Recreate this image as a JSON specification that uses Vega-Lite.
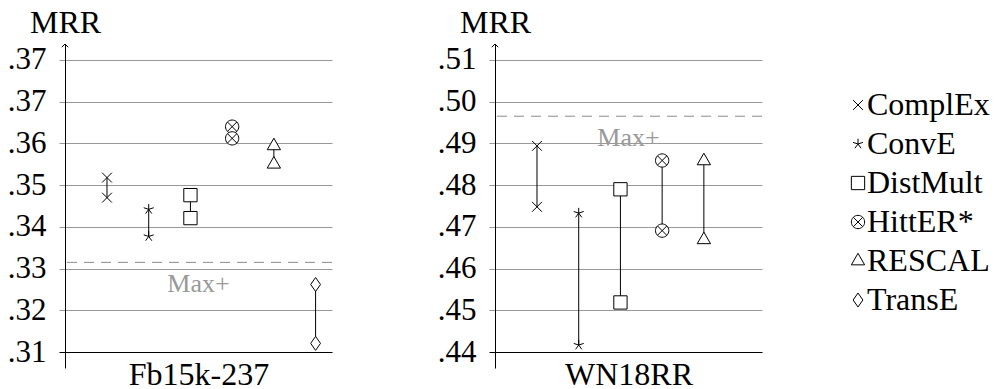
{
  "$schema": "https://vega.github.io/schema/vega-lite/v6.json",
  "background": "white",
  "padding": {"left": 7, "top": 6, "right": 5, "bottom": 0},
  "config": {
    "font": "Liberation Serif",
    "view": {"stroke": null},
    "axis": {
      "labelFont": "Liberation Serif", "labelFontSize": 31, "labelColor": "black",
      "titleFont": "Liberation Serif", "titleFontSize": 32, "titleFontWeight": "normal", "titleColor": "black",
      "domainColor": "black", "domainWidth": 1, "tickSize": 6, "labelPadding": 13, "gridWidth": 1
    }
  },
  "datasets": {
    "fb": [
      {"model": "ComplEx", "mrr": 0.3518}, {"model": "ComplEx", "mrr": 0.3470},
      {"model": "ConvE", "mrr": 0.3442}, {"model": "ConvE", "mrr": 0.3377},
      {"model": "DistMult", "mrr": 0.3476}, {"model": "DistMult", "mrr": 0.3421},
      {"model": "HittER*", "mrr": 0.3640}, {"model": "HittER*", "mrr": 0.3612},
      {"model": "RESCAL", "mrr": 0.3594}, {"model": "RESCAL", "mrr": 0.3550},
      {"model": "TransE", "mrr": 0.3262}, {"model": "TransE", "mrr": 0.3121}
    ],
    "fbmax": [{"label": "Max+", "mrr": 0.3315}],
    "wn": [
      {"model": "ComplEx", "mrr": 0.4894}, {"model": "ComplEx", "mrr": 0.4748},
      {"model": "ConvE", "mrr": 0.4733}, {"model": "ConvE", "mrr": 0.4417},
      {"model": "DistMult", "mrr": 0.4790}, {"model": "DistMult", "mrr": 0.4519},
      {"model": "HittER*", "mrr": 0.4859}, {"model": "HittER*", "mrr": 0.4691},
      {"model": "RESCAL", "mrr": 0.4858}, {"model": "RESCAL", "mrr": 0.4669}
    ],
    "wnmax": [{"label": "Max+", "mrr": 0.4965}],
    "models": [
      {"model": "ComplEx"}, {"model": "ConvE"}, {"model": "DistMult"},
      {"model": "HittER*"}, {"model": "RESCAL"}, {"model": "TransE"}
    ]
  },
  "spacing": 85,
  "hconcat": [
    {
      "spacing": 104,
      "hconcat": [
        {
          "width": 267, "height": 324,
          "layer": [
            {
              "data": {"name": "fb"},
              "mark": {"type": "rule", "color": "black", "strokeWidth": 1},
              "encoding": {
                "x": {"field": "model", "type": "nominal", "scale": {"type": "point", "domain": ["ComplEx", "ConvE", "DistMult", "HittER*", "RESCAL", "TransE"], "padding": 0.7, "align": 0.719}, "axis": null},
                "y": {"aggregate": "min", "field": "mrr", "type": "quantitative", "scale": {"domain": [0.3062, 0.3838], "nice": false, "zero": false}, "title": "MRR"},
                "y2": {"aggregate": "max", "field": "mrr"}
              }
            },
            {
              "data": {"name": "fb"},
              "mark": {"type": "point", "fill": "white", "stroke": "black", "strokeWidth": 1, "opacity": 1, "size": 196},
              "encoding": {
                "x": {"field": "model", "type": "nominal", "scale": {"type": "point", "domain": ["ComplEx", "ConvE", "DistMult", "HittER*", "RESCAL", "TransE"], "padding": 0.7, "align": 0.719},
                  "axis": {"title": "Fb15k-237", "domain": false, "ticks": false, "labels": false, "grid": false, "titleY": 16, "titleBaseline": "alphabetic"}},
                "y": {"field": "mrr", "type": "quantitative", "scale": {"domain": [0.3062, 0.3838], "nice": false, "zero": false}, "title": "MRR",
                  "axis": {"values": [0.31, 0.32, 0.33, 0.34, 0.35, 0.36, 0.37, 0.38], "grid": true,
                    "gridColor": {"condition": {"test": "datum.value < 0.315", "value": "black"}, "value": "#999999"},
                    "tickColor": {"condition": {"test": "datum.value < 0.315", "value": "black"}, "value": "#999999"},
                    "labelExpr": "datum.value > 0.375 ? '.37' : replace(format(datum.value, '.2f'), '0.', '.')",
                    "titleAngle": 0, "titleAlign": "center", "titleBaseline": "alphabetic", "titleX": 0, "titleY": -12}},
                "shape": {"field": "model", "type": "nominal",
                  "scale": {"domain": ["ComplEx", "ConvE", "DistMult", "HittER*", "RESCAL", "TransE"],
                    "range": [
                      "M-0.7,-0.7L0.7,0.7M-0.7,0.7L0.7,-0.7",
                      "M0,0L0,-0.75M0,0L0.713,-0.232M0,0L0.441,0.607M0,0L-0.441,0.607M0,0L-0.713,-0.232",
                      "M-0.95,-0.95L0.95,-0.95L0.95,0.95L-0.95,0.95Z",
                      "M0.95,0A0.95,0.95,0,1,1,-0.95,0A0.95,0.95,0,1,1,0.95,0ZM-0.67,-0.67L0.67,0.67M-0.67,0.67L0.67,-0.67",
                      "M0,-1.1L0.95,0.55L-0.95,0.55Z",
                      "M0,-1L0.7,0L0,1L-0.7,0Z"
                    ]},
                  "legend": null}
              }
            },
            {
              "data": {"name": "fbmax"},
              "mark": {"type": "rule", "color": "#8c8c8c", "strokeDash": [10, 7], "strokeWidth": 1},
              "encoding": {"y": {"field": "mrr", "type": "quantitative", "title": "MRR"}}
            },
            {
              "data": {"name": "fbmax"},
              "mark": {"type": "text", "color": "#999999", "fontSize": 26, "dy": 22, "baseline": "middle", "align": "center", "font": "Liberation Serif"},
              "encoding": {
                "x": {"datum": 0.5, "type": "quantitative", "scale": {"domain": [0, 1]}, "axis": null},
                "y": {"field": "mrr", "type": "quantitative", "title": "MRR"},
                "text": {"field": "label"}
              }
            },
            {
              "data": {"name": "fbmax"},
              "mark": {"type": "point", "shape": "M-0.8,0.8L0,0L0.8,0.8", "size": 64, "stroke": "black", "strokeWidth": 1, "fillOpacity": 0, "opacity": 1},
              "encoding": {
                "x": {"datum": 0, "type": "quantitative", "scale": {"domain": [0, 1]}, "axis": null},
                "y": {"datum": 0.3838, "type": "quantitative"}
              }
            }
          ],
          "resolve": {"scale": {"x": "independent"}}
        },
        {
          "width": 267, "height": 324,
          "layer": [
            {
              "data": {"name": "wn"},
              "mark": {"type": "rule", "color": "black", "strokeWidth": 1},
              "encoding": {
                "x": {"field": "model", "type": "nominal", "scale": {"type": "point", "domain": ["ComplEx", "ConvE", "DistMult", "HittER*", "RESCAL", "TransE"], "padding": 0.7, "align": 0.719}, "axis": null},
                "y": {"aggregate": "min", "field": "mrr", "type": "quantitative", "scale": {"domain": [0.4362, 0.5138], "nice": false, "zero": false}, "title": "MRR"},
                "y2": {"aggregate": "max", "field": "mrr"}
              }
            },
            {
              "data": {"name": "wn"},
              "mark": {"type": "point", "fill": "white", "stroke": "black", "strokeWidth": 1, "opacity": 1, "size": 196},
              "encoding": {
                "x": {"field": "model", "type": "nominal", "scale": {"type": "point", "domain": ["ComplEx", "ConvE", "DistMult", "HittER*", "RESCAL", "TransE"], "padding": 0.7, "align": 0.719},
                  "axis": {"title": "WN18RR", "domain": false, "ticks": false, "labels": false, "grid": false, "titleY": 16, "titleBaseline": "alphabetic"}},
                "y": {"field": "mrr", "type": "quantitative", "scale": {"domain": [0.4362, 0.5138], "nice": false, "zero": false}, "title": "MRR",
                  "axis": {"values": [0.44, 0.45, 0.46, 0.47, 0.48, 0.49, 0.50, 0.51], "grid": true,
                    "gridColor": {"condition": {"test": "datum.value < 0.445", "value": "black"}, "value": "#999999"},
                    "tickColor": {"condition": {"test": "datum.value < 0.445", "value": "black"}, "value": "#999999"},
                    "labelExpr": "replace(format(datum.value, '.2f'), '0.', '.')",
                    "titleAngle": 0, "titleAlign": "center", "titleBaseline": "alphabetic", "titleX": 0, "titleY": -12}},
                "shape": {"field": "model", "type": "nominal", "legend": null}
              }
            },
            {
              "data": {"name": "wnmax"},
              "mark": {"type": "rule", "color": "#8c8c8c", "strokeDash": [10, 7], "strokeWidth": 1},
              "encoding": {"y": {"field": "mrr", "type": "quantitative", "title": "MRR"}}
            },
            {
              "data": {"name": "wnmax"},
              "mark": {"type": "text", "color": "#999999", "fontSize": 26, "dy": 22, "baseline": "middle", "align": "center", "font": "Liberation Serif"},
              "encoding": {
                "x": {"datum": 0.5, "type": "quantitative", "scale": {"domain": [0, 1]}, "axis": null},
                "y": {"field": "mrr", "type": "quantitative", "title": "MRR"},
                "text": {"field": "label"}
              }
            },
            {
              "data": {"name": "wnmax"},
              "mark": {"type": "point", "shape": "M-0.8,0.8L0,0L0.8,0.8", "size": 64, "stroke": "black", "strokeWidth": 1, "fillOpacity": 0, "opacity": 1},
              "encoding": {
                "x": {"datum": 0, "type": "quantitative", "scale": {"domain": [0, 1]}, "axis": null},
                "y": {"datum": 0.5138, "type": "quantitative"}
              }
            }
          ],
          "resolve": {"scale": {"x": "independent"}}
        }
      ],
      "resolve": {"scale": {"y": "independent", "shape": "shared"}}
    },
    {
      "width": 20, "height": 273,
      "data": {"name": "models"},
      "layer": [
        {
          "mark": {"type": "point", "fill": "white", "stroke": "black", "strokeWidth": 1, "opacity": 1, "size": 196},
          "encoding": {
            "y": {"field": "model", "type": "nominal", "scale": {"type": "point", "domain": ["ComplEx", "ConvE", "DistMult", "HittER*", "RESCAL", "TransE"], "padding": 1, "align": 0.782}, "axis": null},
            "shape": {"field": "model", "type": "nominal", "legend": null}
          }
        },
        {
          "mark": {"type": "text", "align": "left", "baseline": "middle", "dx": 9, "fontSize": 32, "font": "Liberation Serif", "color": "black"},
          "encoding": {
            "y": {"field": "model", "type": "nominal", "scale": {"type": "point", "domain": ["ComplEx", "ConvE", "DistMult", "HittER*", "RESCAL", "TransE"], "padding": 1, "align": 0.782}, "axis": null},
            "text": {"field": "model"}
          }
        }
      ]
    }
  ],
  "resolve": {"scale": {"y": "independent", "shape": "shared"}}
}
